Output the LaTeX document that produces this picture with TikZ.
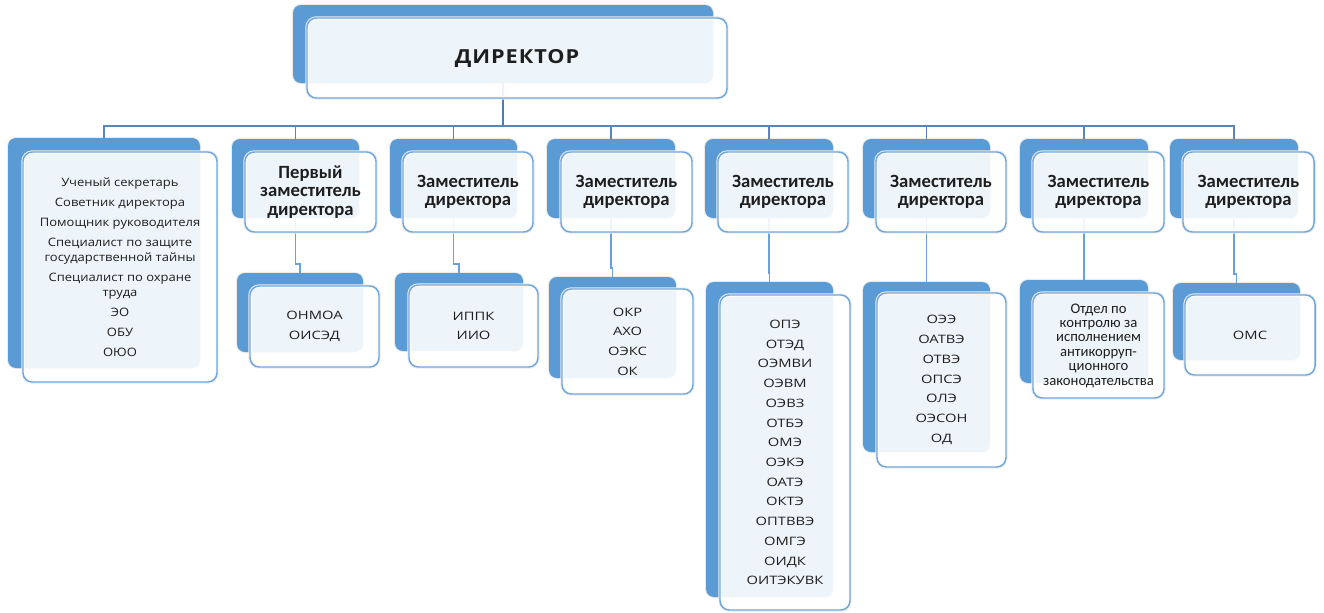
\documentclass[tikz,border=0pt]{standalone}
\usepackage{fontspec}
\setmainfont{Open Sans}
\newfontfamily\listfont[FakeStretch=1.27]{Open Sans}
\newfontfamily\leftfont[FakeStretch=1.12]{Open Sans}
\newfontfamily\headfont{Carlito}
\newfontfamily\dirfont[FakeStretch=1.12,LetterSpace=5]{Open Sans}
\usetikzlibrary{calc}
\definecolor{backblue}{RGB}{91,155,213}
\definecolor{frontedge}{RGB}{112,168,222}
\definecolor{trunkc}{RGB}{74,126,187}
\definecolor{busc}{RGB}{92,132,184}
\definecolor{linkc}{RGB}{104,162,218}
\definecolor{txt}{RGB}{30,30,30}
\tikzset{
  backbox/.style={fill=backblue, rounded corners=6pt, inner sep=0pt,
    preaction={draw=black!8, line width=1.6pt}},
  frontbox/.style={fill=white, fill opacity=0.9, text opacity=1, draw=frontedge,
    line width=1.1pt, rounded corners=7pt, inner sep=0pt, align=center, text=txt,
    preaction={draw=black!8, line width=2.6pt, draw opacity=1}},
  headtxt/.style={font={\headfont\bfseries\fontsize{14}{13.9}\selectfont}},
  listtxt/.style={font={\listfont\fontsize{8.7}{14.8}\selectfont}},
  lefttxt/.style={font={\leftfont\fontsize{8.7}{11}\selectfont}},
  smalltxt/.style={font={\headfont\fontsize{11}{10.8}\selectfont}},
  dirtxt/.style={font={\dirfont\bfseries\fontsize{14.5}{16}\selectfont}},
  trunk/.style={draw=trunkc, line width=2pt},
  bus/.style={draw=busc, line width=1.2pt},
  link/.style={draw=linkc, line width=1.4pt},
}
\newcommand\mkback[5]{\node[backbox, minimum width={(#4-#2)*0.75pt}, minimum height={(#5-#3)*0.75pt}] (#1) at ({(#2+#4)/2},{(#3+#5)/2}) {};}
\newcommand\mkfront[7]{\node[frontbox, #6, minimum width={(#4-#2)*0.75pt}, minimum height={(#5-#3)*0.75pt}] (#1) at ({(#2+#4)/2},{(#3+#5)/2}) {#7};}
\begin{document}
\begin{tikzpicture}[x=0.75pt,y=-0.75pt]
\useasboundingbox (0,0) rectangle (1324,612);
% back boxes
\mkback{dirb}{293}{5}{713}{83}
\mkback{ub1}{8}{138}{200}{368}
\mkback{ub2}{232}{139}{359}{218}
\mkback{ub3}{390}{139}{517}{218}
\mkback{ub4}{547}{139}{675}{218}
\mkback{ub5}{705}{139}{833}{218}
\mkback{ub6}{863}{139}{990}{218}
\mkback{ub7}{1020}{139}{1148}{218}
\mkback{ub8}{1170}{139}{1298}{218}
\mkback{lb2}{237}{273}{363}{352}
\mkback{lb3}{395}{273}{523}{351}
\mkback{lb4}{549}{277}{676}{378}
\mkback{lb5}{706}{282}{833}{597}
\mkback{lb6}{863}{282}{990}{452}
\mkback{lb7}{1020}{280}{1148}{383}
\mkback{lb8}{1173}{283}{1300}{360}
% connectors
\coordinate (busy) at (0,126);
\foreach \i in {ub1,ub2,ub3,ub4,ub5,ub6,ub7,ub8}{
  \draw[bus] (dirb.south |- busy) -| (\i.north);
}
\draw[trunk] (dirb.south) -- (dirb.south |- busy);
\foreach \u/\l in {ub2/lb2,ub3/lb3,ub4/lb4,ub5/lb5,ub6/lb6,ub7/lb7,ub8/lb8}{
  \draw[link] (\u.south) |- ($(\l.north)+(0,-9)$) -- (\l.north);
}
% front boxes
\mkfront{dirf}{307}{18}{727}{98}{dirtxt}{ДИРЕКТОР}
\mkfront{uf1}{23}{152}{217}{382}{lefttxt}{Ученый секретарь\\[4pt]Советник директора\\[4pt]Помощник руководителя\\[4pt]Специалист по защите\\государственной тайны\\[4pt]Специалист по охране\\труда\\[4pt]ЭО\\[4pt]ОБУ\\[4pt]ОЮО}
\mkfront{uf2}{245}{152}{376}{232}{headtxt}{Первый\\заместитель\\директора}
\mkfront{uf3}{403}{152}{533}{232}{headtxt}{Заместитель\\директора}
\mkfront{uf4}{561}{152}{692}{232}{headtxt}{Заместитель\\директора}
\mkfront{uf5}{718}{152}{848}{232}{headtxt}{Заместитель\\директора}
\mkfront{uf6}{876}{152}{1006}{232}{headtxt}{Заместитель\\директора}
\mkfront{uf7}{1033}{152}{1164}{232}{headtxt}{Заместитель\\директора}
\mkfront{uf8}{1183}{152}{1314}{232}{headtxt}{Заместитель\\директора}
\mkfront{lf2}{250}{286}{379}{367}{listtxt}{ОНМОА\\ОИСЭД}
\mkfront{lf3}{409}{285}{538}{367}{listtxt}{ИППК\\ИИО}
\mkfront{lf4}{562}{289}{693}{394}{listtxt}{ОКР\\АХО\\ОЭКС\\ОК}
\mkfront{lf5}{720}{295}{850}{610}{listtxt}{ОПЭ\\ОТЭД\\ОЭМВИ\\ОЭВМ\\ОЭВЗ\\ОТБЭ\\ОМЭ\\ОЭКЭ\\ОАТЭ\\ОКТЭ\\ОПТВВЭ\\ОМГЭ\\ОИДК\\ОИТЭКУВК}
\mkfront{lf6}{877}{293}{1006}{467}{listtxt}{ОЭЭ\\ОАТВЭ\\ОТВЭ\\ОПСЭ\\ОЛЭ\\ОЭСОН\\ОД}
\mkfront{lf7}{1033}{293}{1164}{398}{smalltxt}{Отдел по\\контролю за\\исполнением\\антикорруп-\\ционного\\законодательства}
\mkfront{lf8}{1185}{295}{1315}{375}{listtxt}{ОМС}
\end{tikzpicture}
\end{document}
